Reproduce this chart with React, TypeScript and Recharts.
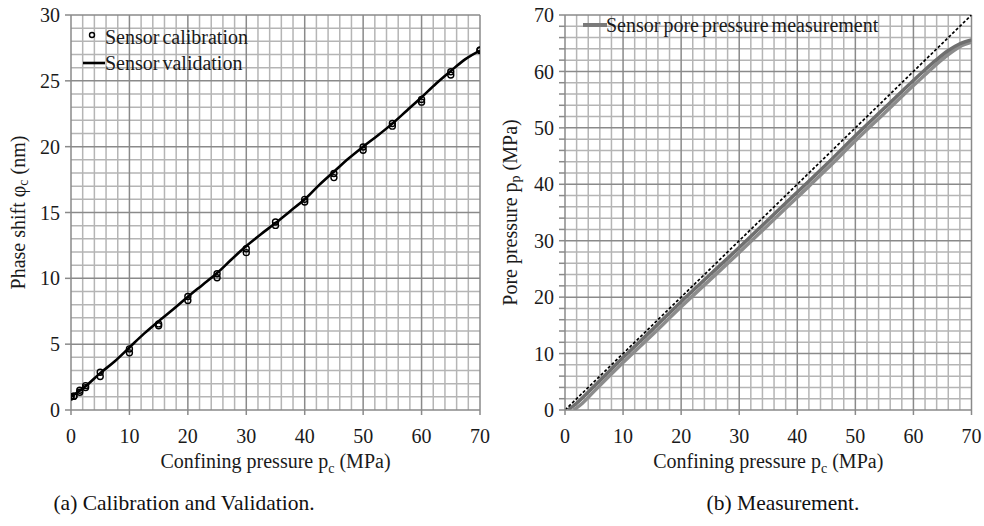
import React from "react";
import {
  ComposedChart,
  Line,
  Scatter,
  XAxis,
  YAxis,
  ReferenceLine,
} from "recharts";

// ---- chart (a): calibration and validation ----
const calibX = [0, 0.5, 1.5, 2.5, 5, 10, 15, 20, 25, 30, 35, 40, 45, 50, 55, 60, 65, 70];
const calibUp = [1.0, 1.05, 1.5, 1.85, 2.87, 4.64, 6.54, 8.62, 10.35, 12.25, 14.28, 16.0, 17.96, 19.98, 21.76, 23.59, 25.69, 27.34];
const calibDown = [1.0, 1.05, 1.35, 1.7, 2.54, 4.34, 6.4, 8.32, 10.04, 11.95, 14.02, 15.8, 17.65, 19.73, 21.56, 23.38, 25.44, 27.3];

const validX = [0, 2.5, 5, 7.5, 10, 12.5, 15, 17.5, 20, 22.5, 25, 27.5, 30, 32.5, 35, 37.5, 40, 42.5, 45, 47.5, 50, 52.5, 55, 57.5, 60, 62.5, 65, 67.5, 70];
const validY = [1.0, 1.8, 2.8, 3.7, 4.75, 5.8, 6.75, 7.65, 8.6, 9.5, 10.4, 11.45, 12.45, 13.35, 14.2, 15.1, 16.0, 17.1, 18.1, 19.1, 20.0, 20.85, 21.75, 22.75, 23.75, 24.8, 25.75, 26.65, 27.3];

const xTicks = [0, 10, 20, 30, 40, 50, 60, 70];
const xMinor = [2, 4, 6, 8, 12, 14, 16, 18, 22, 24, 26, 28, 32, 34, 36, 38, 42, 44, 46, 48, 52, 54, 56, 58, 62, 64, 66, 68];
const yTicksA = [0, 5, 10, 15, 20, 25, 30];
const yMinorA = [1, 2, 3, 4, 6, 7, 8, 9, 11, 12, 13, 14, 16, 17, 18, 19, 21, 22, 23, 24, 26, 27, 28, 29];

// ---- chart (b): measurement ----
const measX1 = [0.5, 2, 5, 10, 15, 20, 25, 30, 35, 40, 45, 50, 55, 60, 62, 64, 66, 68, 70];
const measY1 = [0, 1.2, 4.2, 9.3, 14.2, 19.2, 24.0, 28.8, 33.7, 38.6, 43.5, 48.6, 53.5, 58.4, 60.3, 62.1, 63.7, 64.9, 65.6];
const measX2 = [1.5, 3, 5, 10, 15, 20, 25, 30, 35, 40, 45, 50, 55, 60, 62, 64, 66, 68, 70];
const measY2 = [0, 1.2, 3.3, 8.4, 13.3, 18.3, 23.1, 27.9, 32.8, 37.7, 42.6, 47.7, 52.6, 57.5, 59.4, 61.3, 63.0, 64.4, 65.2];
const identityX = [0, 70];

const yTicksB = [0, 2, 4, 6, 8, 10, 12, 14, 16, 18, 20, 22, 24, 26, 28, 30, 32, 34, 36, 38, 40, 42, 44, 46, 48, 50, 52, 54, 56, 58, 60, 62, 64, 66, 68, 70];
const yMajorB = [0, 10, 20, 30, 40, 50, 60, 70];

const zip = (xs: number[], ys: number[]) => xs.map((x, i) => ({ x, y: ys[i] }));

const FONT = "'Liberation Serif', 'Times New Roman', serif";
const MINOR = "#b5b5b5";
const MAJOR = "#8a8a8a";

const tickStyle = { fontFamily: FONT, fontSize: 20, fill: "#1a1a1a" };

const XTitle = (props: any) => {
  const vb = props.viewBox;
  return (
    <text
      x={vb.x + vb.width / 2}
      y={vb.y + 58}
      textAnchor="middle"
      fontFamily={FONT}
      fontSize={20}
      fill="#1a1a1a"
    >
      Confining pressure p<tspan dy={5} fontSize={14}>c</tspan>
      <tspan dy={-5}> (MPa)</tspan>
    </text>
  );
};

const YTitle = (props: any) => {
  const vb = props.viewBox;
  const cx = vb.x + 18;
  const cy = vb.y + vb.height / 2;
  return (
    <text
      x={cx}
      y={cy}
      transform={`rotate(-90, ${cx}, ${cy})`}
      textAnchor="middle"
      dominantBaseline="central"
      fontFamily={FONT}
      fontSize={20}
      fill="#1a1a1a"
    >
      {props.main}
      <tspan dy={5} fontSize={14}>{props.sub}</tspan>
      <tspan dy={-5}> {props.unit}</tspan>
    </text>
  );
};

const Ring = (p: any) => (
  <circle cx={p.cx} cy={p.cy} r={3} fill="none" stroke="#000" strokeWidth={1.4} />
);

const gridLines = (xs: number[], ys: number[], color: string) => [
  ...xs.map((v) => (
    <ReferenceLine key={`x${color}${v}`} x={v} stroke={color} strokeWidth={1.5} zIndex={-100} />
  )),
  ...ys.map((v) => (
    <ReferenceLine key={`y${color}${v}`} y={v} stroke={color} strokeWidth={1.5} zIndex={-100} />
  )),
];

const ChartA = () => (
  <ComposedChart width={492} height={490} margin={{ top: 15, right: 12, bottom: 0, left: 0 }}>
    <XAxis
      dataKey="x"
      type="number"
      domain={[0, 70]}
      ticks={xTicks}
      interval={0}
      allowDataOverflow
      stroke={MAJOR}
      strokeWidth={1.5}
      tickSize={5}
      tickMargin={14}
      tick={tickStyle}
      height={80}
      label={<XTitle />}
    />
    <YAxis
      dataKey="y"
      type="number"
      domain={[0, 30]}
      ticks={yTicksA}
      interval={0}
      allowDataOverflow
      stroke={MAJOR}
      strokeWidth={1.5}
      tickSize={6}
      tickMargin={5}
      tick={tickStyle}
      width={71}
      label={<YTitle main="Phase shift φ" sub="c" unit="(nm)" />}
    />
    {gridLines(xMinor, yMinorA, MINOR)}
    {gridLines(xTicks.slice(1), yTicksA.slice(1), MAJOR)}
    <Line
      data={zip(validX, validY)}
      dataKey="y"
      type="monotone"
      stroke="#000"
      strokeWidth={2.6}
      dot={false}
      isAnimationActive={false}
    />
    <Scatter data={zip(calibX, calibUp)} shape={Ring} isAnimationActive={false} />
    <Scatter data={zip(calibX, calibDown)} shape={Ring} isAnimationActive={false} />
  </ComposedChart>
);

const ChartB = () => (
  <ComposedChart width={492} height={490} margin={{ top: 15, right: 12.5, bottom: 0, left: 0 }}>
    <XAxis
      dataKey="x"
      type="number"
      domain={[0, 70]}
      ticks={xTicks}
      interval={0}
      allowDataOverflow
      stroke={MAJOR}
      strokeWidth={1.5}
      tickSize={5}
      tickMargin={14}
      tick={tickStyle}
      height={80}
      label={<XTitle />}
    />
    <YAxis
      dataKey="y"
      type="number"
      domain={[0, 70]}
      ticks={yTicksB}
      interval={0}
      allowDataOverflow
      stroke={MAJOR}
      strokeWidth={1.5}
      tickSize={6}
      tickMargin={5}
      tick={tickStyle}
      tickFormatter={(v: number) => (v % 10 === 0 ? String(v) : "")}
      width={73}
      label={<YTitle main="Pore pressure p" sub="p" unit="(MPa)" />}
    />
    {gridLines(xMinor, yTicksB.filter((v) => v % 10 !== 0), MINOR)}
    {gridLines(xTicks.slice(1), yMajorB.slice(1), MAJOR)}
    <Line
      data={zip(measX2, measY2)}
      dataKey="y"
      type="monotone"
      stroke="#8c8c8c"
      strokeWidth={3.5}
      dot={false}
      isAnimationActive={false}
    />
    <Line
      data={zip(measX1, measY1)}
      dataKey="y"
      type="monotone"
      stroke="#6f6f6f"
      strokeWidth={3.5}
      dot={false}
      isAnimationActive={false}
    />
    <Line
      data={zip(identityX, identityX)}
      dataKey="y"
      stroke="#000"
      strokeWidth={1.7}
      strokeDasharray="3 2"
      dot={false}
      isAnimationActive={false}
    />
  </ComposedChart>
);

const legendText: React.CSSProperties = {
  position: "absolute",
  fontFamily: FONT,
  fontSize: 20,
  color: "#1a1a1a",
  lineHeight: "20px",
  whiteSpace: "nowrap",
  wordSpacing: -2,
};

const caption: React.CSSProperties = {
  position: "absolute",
  top: 490,
  fontFamily: FONT,
  fontSize: 21.5,
  lineHeight: "26px",
  color: "#111",
  whiteSpace: "nowrap",
  transform: "translateX(-50%)",
};

export default function App() {
  return (
    <div style={{ position: "absolute", left: 0, top: 0, width: 984, height: 526, background: "#fff", overflow: "hidden" }}>
      <div style={{ position: "absolute", left: 0, top: 0 }}>
        <ChartA />
      </div>
      <div style={{ position: "absolute", left: 492, top: 0 }}>
        <ChartB />
      </div>

      {/* legend (a) */}
      <svg style={{ position: "absolute", left: 80, top: 25 }} width={30} height={50}>
        <circle cx={12} cy={10} r={2.5} fill="none" stroke="#000" strokeWidth={1.4} />
        <line x1={3} y1={38} x2={25} y2={38} stroke="#000" strokeWidth={2.6} />
      </svg>
      <div style={{ ...legendText, left: 105, top: 27 }}>Sensor calibration</div>
      <div style={{ ...legendText, left: 105, top: 53 }}>Sensor validation</div>

      {/* legend (b) */}
      <svg style={{ position: "absolute", left: 582, top: 20 }} width={26} height={10}>
        <line x1={1} y1={5} x2={25} y2={5} stroke="#7a7a7a" strokeWidth={4} />
      </svg>
      <div style={{ ...legendText, left: 606, top: 15 }}>Sensor pore pressure measurement</div>

      <div style={{ ...caption, left: 184 }}>(a) Calibration and Validation.</div>
      <div style={{ ...caption, left: 783 }}>(b) Measurement.</div>
    </div>
  );
}
